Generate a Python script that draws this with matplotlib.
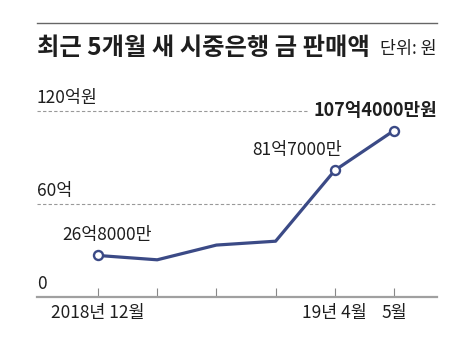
import matplotlib
matplotlib.use("Agg")
import matplotlib.pyplot as plt
from matplotlib.lines import Line2D

plt.rcParams['font.family'] = ['Noto Sans CJK KR', 'DejaVu Sans']

# data (unit: 억원)
months = ["2018년 12월", "1월", "2월", "3월", "19년 4월", "5월"]
tick_labels = ["2018년 12월", "", "", "", "19년 4월", "5월"]
sales = [26.8, 24.0, 33.5, 36.0, 81.7, 107.4]
marked = [0, 4, 5]
point_labels = {0: "26억8000만", 4: "81억7000만", 5: "107억4000만원"}
y_ticks = [0, 60, 120]
y_tick_labels = ["0", "60억", "120억원"]

W, H = 476, 357
fig = plt.figure(figsize=(W / 100, H / 100), dpi=100)

# axes: x px 37..437, y px 297 (0) .. 111 (120)
ax = fig.add_axes([37 / W, (H - 297) / H, 400 / W, 186 / H])
ax.set_xlim(-1.03, 5.726)
ax.set_ylim(0, 120)
for s in ax.spines.values():
    s.set_visible(False)
ax.patch.set_visible(False)

line_c = "#3b4a86"
txt_c = "#1e1e1e"

# gridlines
ax.plot([-1.03, 3.55], [120, 120], ls=(0, (3, 2)), color="#999999", lw=0.8, clip_on=False)
ax.plot([-1.03, 5.726], [60, 60], ls=(0, (3, 2)), color="#999999", lw=0.8, clip_on=False)
ax.plot([-1.03, 5.726], [0, 0], color="#a0a0a0", lw=1.6, clip_on=False, zorder=3)

# ticks
x = list(range(len(months)))
ax.set_xticks(x)
ax.set_xticklabels(tick_labels, fontsize=12.5, color=txt_c)
ax.tick_params(axis='x', direction='in', length=6.5, width=0.8, color="#888888", pad=5)
ax.set_yticks([])

for v, lab in zip(y_ticks, y_tick_labels):
    ax.text(-1.03, v + 2.5, lab, fontsize=12.5, color=txt_c, ha='left', va='bottom')

# data line
ax.plot(x, sales, color=line_c, lw=2.3, zorder=4, clip_on=False)
ax.plot([x[i] for i in marked], [sales[i] for i in marked], 'o', ms=6.5,
        mfc='white', mec=line_c, mew=1.7, zorder=5, clip_on=False)

ax.text(x[0] - 0.6, sales[0] + 13, point_labels[0], fontsize=12.5, color=txt_c,
        ha='left', va='center')
ax.text(x[4] - 1.4, sales[4] + 13, point_labels[4], fontsize=12.5, color=txt_c,
        ha='left', va='center')
ax.text(x[5] + 0.73, 120, point_labels[5], fontsize=13, color=txt_c,
        ha='right', va='center', weight='bold')

# header
fig.add_artist(Line2D([37 / W, 437 / W], [1 - 23 / H, 1 - 23 / H], color="#666666", lw=1.0))
fig.text(37 / W, 1 - 48 / H, "최근 5개월 새 시중은행 금 판매액", fontsize=17.5,
         weight='bold', color=txt_c, ha='left', va='center')
fig.text(437 / W, 1 - 49 / H, "단위: 원", fontsize=12.5, color=txt_c, ha='right', va='center')

fig.savefig("out.png", dpi=100, facecolor="white")
